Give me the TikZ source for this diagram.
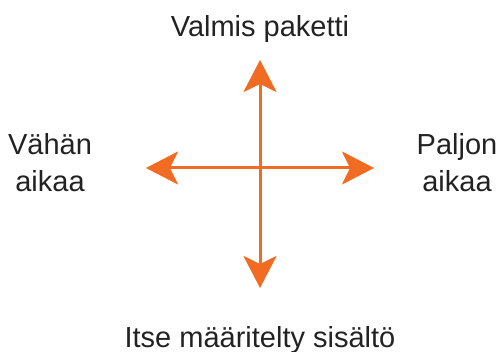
\documentclass[tikz,border=0pt]{standalone}
\usepackage{fontspec}
\setmainfont{Liberation Sans}
\usetikzlibrary{arrows.meta}
\definecolor{arr}{HTML}{F26B22}
\definecolor{txt}{HTML}{222222}
\begin{document}
\begin{tikzpicture}[x=1pt,y=-1pt,
  lbl/.style={text=txt,font=\fontsize{29}{37}\selectfont,inner sep=0pt,anchor=base,align=center},
  axis/.style={draw=arr,line width=3pt,-{Stealth[length=32pt,width=33pt,inset=8pt]}}]
\useasboundingbox (0,0) rectangle (500,352);
\coordinate (c) at (260,168);
\coordinate (t) at (260,60);
\coordinate (b) at (260,288);
\coordinate (l) at (146,168);
\coordinate (r) at (374,168);
\draw[axis] (c) -- (t);
\draw[axis] (c) -- (b);
\draw[axis] (c) -- (l);
\draw[axis] (c) -- (r);
\node[lbl] (top) at (260,37) {Valmis paketti};
\node[lbl] (bot) at (260,347) {Itse määritelty sisältö};
\node[lbl] (left) at (50,192) {Vähän\\aikaa};
\node[lbl] (right) at (457,192) {Paljon\\aikaa};
\end{tikzpicture}
\end{document}
